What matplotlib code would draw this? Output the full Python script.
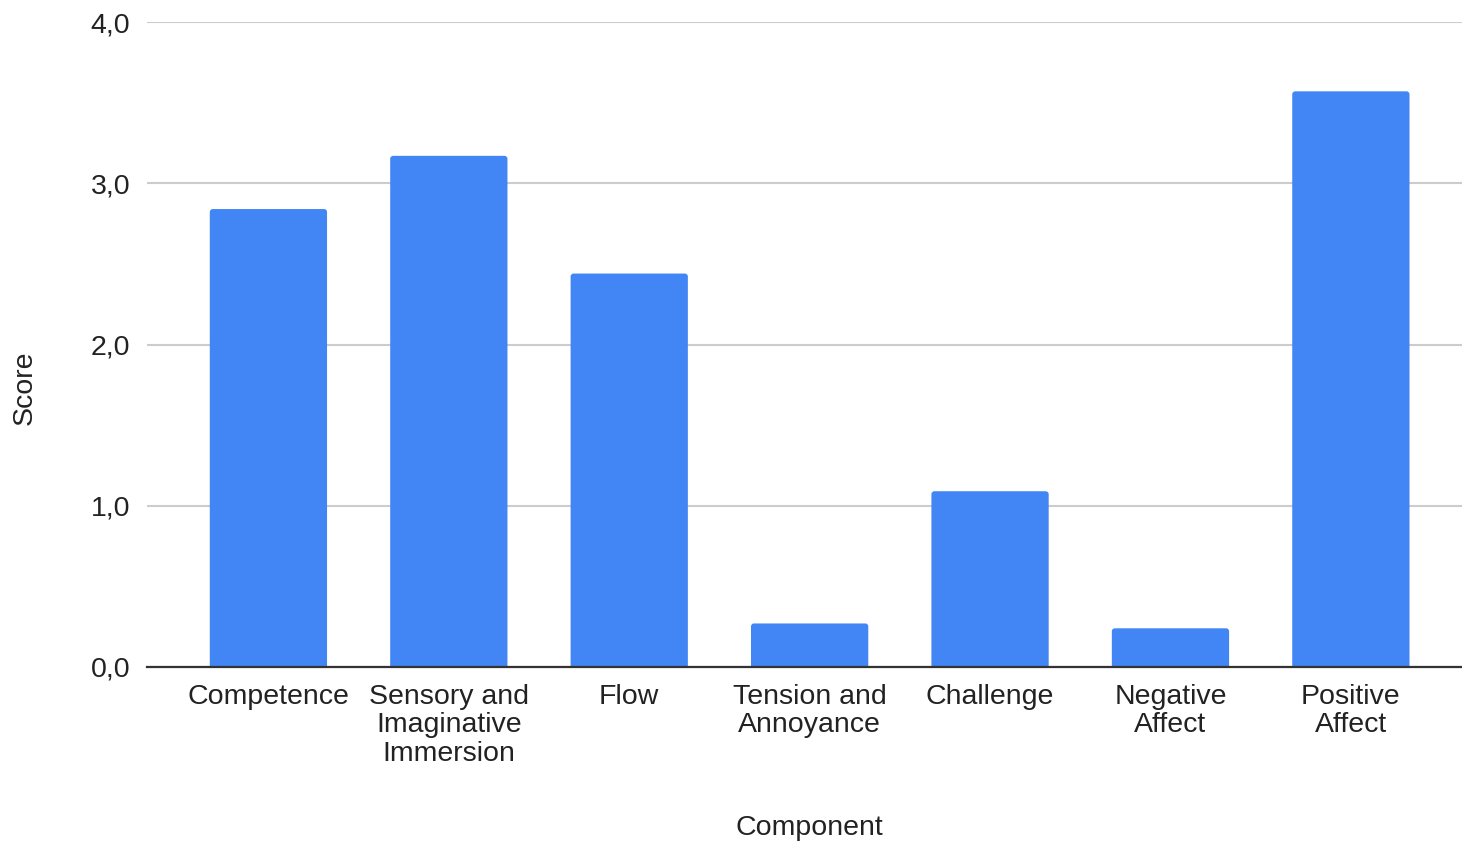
import matplotlib
matplotlib.use("Agg")
import matplotlib.pyplot as plt
from matplotlib.patches import FancyBboxPatch
from matplotlib.ticker import FuncFormatter, MultipleLocator

components = [
    "Competence",
    "Sensory and\nImaginative\nImmersion",
    "Flow",
    "Tension and\nAnnoyance",
    "Challenge",
    "Negative\nAffect",
    "Positive\nAffect",
]
scores = [2.84, 3.17, 2.44, 0.27, 1.09, 0.24, 3.57]

BAR_COLOR = "#4285F4"
TEXT_COLOR = "#222222"

plt.rcParams["font.family"] = ["Liberation Sans", "DejaVu Sans"]

W, H = 1462, 841
fig = plt.figure(figsize=(W / 100, H / 100), dpi=100)
left, right, bottom, top = 147, 1462, 667, 22
ax = fig.add_axes([left / W, (H - bottom) / H, (right - left) / W, (bottom - top) / H])

x = list(range(len(components)))
bars = ax.bar(x, scores, width=0.65, color=BAR_COLOR, zorder=3)

ax.set_xlim(-0.673, 6.616)
ax.set_ylim(0, 4)

# swap the plain rectangles for ones with softly rounded top corners
px_x = 1.0 / 180.4
px_y = 1.0 / 161.1
radius = 3 * px_x
for b in bars:
    bx, by = b.get_xy()
    bw, bh = b.get_width(), b.get_height()
    b.set_visible(False)
    patch = FancyBboxPatch(
        (bx, by - 5 * px_y), bw, bh + 5 * px_y,
        boxstyle=f"round,pad=0,rounding_size={radius}",
        mutation_aspect=px_y / px_x,
        facecolor=BAR_COLOR, edgecolor="none", zorder=3,
    )
    ax.add_patch(patch)

ax.yaxis.set_major_locator(MultipleLocator(1.0))
ax.yaxis.set_major_formatter(FuncFormatter(lambda v, _: f"{v:.1f}".replace(".", ",")))
ax.grid(axis="y", color="#cccccc", linewidth=1.5, zorder=0)
ax.set_axisbelow(True)

for side in ("top", "right", "left"):
    ax.spines[side].set_visible(False)
ax.spines["bottom"].set_color("#333333")
ax.spines["bottom"].set_linewidth(1.6)
ax.spines["bottom"].set_zorder(4)

ax.set_xticks(x)
ax.set_xticklabels(components, fontsize=20.5, color=TEXT_COLOR, linespacing=1.13)
ax.tick_params(axis="x", length=0, pad=12)
ax.tick_params(axis="y", length=0, pad=12, labelsize=20.5, labelcolor=TEXT_COLOR)

ax.set_xlabel("Component", fontsize=20.5, color=TEXT_COLOR, va="center", ha="center")
ax.xaxis.set_label_coords((809 - left) / (right - left), (bottom - 828) / (bottom - top))
ax.set_ylabel("Score", fontsize=20.5, color=TEXT_COLOR, va="center", ha="center")
ax.yaxis.set_label_coords((25 - left) / (right - left), (bottom - 388) / (bottom - top))

fig.savefig("out.png", dpi=100, facecolor="white")
